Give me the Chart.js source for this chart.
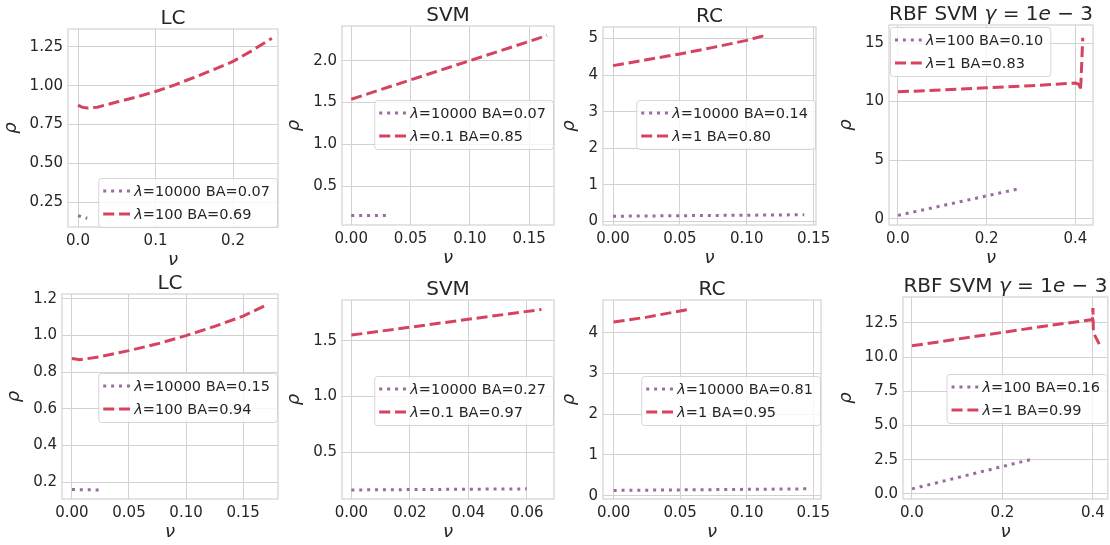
<!DOCTYPE html>
<html>
<head>
<meta charset="utf-8">
<script src="https://cdn.jsdelivr.net/npm/chart.js@4.4.1/dist/chart.umd.min.js"></script>
<style>
  body { margin: 0; background: #fff; }
  #wrap { position: relative; width: 1110px; height: 545px; }
  #wrap canvas { position: absolute; left: 0; top: 0; }
</style>
</head>
<body>
<div id="wrap">
  <canvas id="lc1" width="1110" height="545"></canvas>
  <canvas id="svm1" width="1110" height="545"></canvas>
  <canvas id="rc1" width="1110" height="545"></canvas>
  <canvas id="rbf1" width="1110" height="545"></canvas>
  <canvas id="lc2" width="1110" height="545"></canvas>
  <canvas id="svm2" width="1110" height="545"></canvas>
  <canvas id="rc2" width="1110" height="545"></canvas>
  <canvas id="rbf2" width="1110" height="545"></canvas>
</div>
<script>
var titles = ['LC', 'SVM', 'RC', 'RBF SVM γ = 1e − 3'];

// --- top row ---
var lc1DotNu = [0, 0.012];
var lc1DotRho = [0.162, 0.145];
var lc1DashNu = [0, 0.005, 0.012, 0.025, 0.05, 0.075, 0.1, 0.125, 0.15, 0.175, 0.2, 0.225, 0.25];
var lc1DashRho = [0.875, 0.862, 0.856, 0.862, 0.895, 0.927, 0.963, 1.006, 1.054, 1.104, 1.157, 1.228, 1.306];
var lc1Lambda = [10000, 100];
var lc1BA = [0.07, 0.69];
var lc1NuTicks = ['0.0', '0.1', '0.2'];
var lc1RhoTicks = ['0.25', '0.50', '0.75', '1.00', '1.25'];

var svm1DotNu = [0, 0.03];
var svm1DotRho = [0.15, 0.15];
var svm1DashNu = [0, 0.05, 0.1, 0.165];
var svm1DashRho = [1.54, 1.77, 2.0, 2.30];
var svm1Lambda = [10000, 0.1];
var svm1BA = [0.07, 0.85];
var svm1NuTicks = ['0.00', '0.05', '0.10', '0.15'];
var svm1RhoTicks = ['0.5', '1.0', '1.5', '2.0'];

var rc1DotNu = [0, 0.07, 0.143];
var rc1DotRho = [0.14, 0.16, 0.18];
var rc1DashNu = [0, 0.025, 0.05, 0.075, 0.1, 0.113];
var rc1DashRho = [4.26, 4.42, 4.58, 4.76, 4.95, 5.08];
var rc1Lambda = [10000, 1];
var rc1BA = [0.14, 0.80];
var rc1NuTicks = ['0.00', '0.05', '0.10', '0.15'];
var rc1RhoTicks = ['0', '1', '2', '3', '4', '5'];

var rbf1DotNu = [0, 0.27];
var rbf1DotRho = [0.28, 2.53];
var rbf1DashNu = [0, 0.1, 0.2, 0.3, 0.4, 0.409, 0.411, 0.4125, 0.4165];
var rbf1DashRho = [10.83, 11.0, 11.18, 11.36, 11.58, 11.45, 10.95, 11.7, 15.45];
var rbf1Lambda = [100, 1];
var rbf1BA = [0.10, 0.83];
var rbf1NuTicks = ['0.0', '0.2', '0.4'];
var rbf1RhoTicks = ['0', '5', '10', '15'];

// --- bottom row ---
var lc2DotNu = [0, 0.025];
var lc2DotRho = [0.16, 0.157];
var lc2DashNu = [0, 0.007, 0.025, 0.05, 0.075, 0.1, 0.125, 0.15, 0.172];
var lc2DashRho = [0.875, 0.868, 0.885, 0.918, 0.955, 1.0, 1.05, 1.106, 1.172];
var lc2Lambda = [10000, 100];
var lc2BA = [0.15, 0.94];
var lc2NuTicks = ['0.00', '0.05', '0.10', '0.15'];
var lc2RhoTicks = ['0.2', '0.4', '0.6', '0.8', '1.0', '1.2'];

var svm2DotNu = [0, 0.06];
var svm2DotRho = [0.16, 0.17];
var svm2DashNu = [0, 0.065];
var svm2DashRho = [1.55, 1.78];
var svm2Lambda = [10000, 0.1];
var svm2BA = [0.27, 0.97];
var svm2NuTicks = ['0.00', '0.02', '0.04', '0.06'];
var svm2RhoTicks = ['0.5', '1.0', '1.5'];

var rc2DotNu = [0, 0.148];
var rc2DotRho = [0.13, 0.17];
var rc2DashNu = [0, 0.025, 0.055];
var rc2DashRho = [4.26, 4.38, 4.56];
var rc2Lambda = [10000, 1];
var rc2BA = [0.81, 0.95];
var rc2NuTicks = ['0.00', '0.05', '0.10', '0.15'];
var rc2RhoTicks = ['0', '1', '2', '3', '4'];

var rbf2DotNu = [0, 0.268];
var rbf2DotRho = [0.37, 2.56];
var rbf2DashNu = [0, 0.1, 0.2, 0.3, 0.399, 0.4, 0.4005, 0.401, 0.414];
var rbf2DashRho = [10.83, 11.32, 11.81, 12.3, 12.75, 13.6, 12.6, 11.8, 10.95];
var rbf2Lambda = [100, 1];
var rbf2BA = [0.16, 0.99];
var rbf2NuTicks = ['0.0', '0.2', '0.4'];
var rbf2RhoTicks = ['0.0', '2.5', '5.0', '7.5', '10.0', '12.5'];

var PURPLE = '#9b6aa0';
var RED = '#d6435e';
var GRID = '#d2d2d2';
var TEXT = '#262626';
var Y_W = 45, X_H = 30;

// plot box [left, top, right, bottom] in page pixels, axis limits, legend spot
var panels = [
  { id: 'lc1', title: titles[0], box: [68, 29, 278, 227], xr: [-0.0129, 0.258], yr: [0.089, 1.366],
    nu: lc1NuTicks, rho: lc1RhoTicks, dot: [lc1DotNu, lc1DotRho], dash: [lc1DashNu, lc1DashRho],
    lambda: lc1Lambda, ba: lc1BA, legend: { side: 'right', top: 149 } },
  { id: 'svm1', title: titles[1], box: [342, 26, 554, 225], xr: [-0.0078, 0.1709], yr: [0.038, 2.414],
    nu: svm1NuTicks, rho: svm1RhoTicks, dot: [svm1DotNu, svm1DotRho], dash: [svm1DashNu, svm1DashRho],
    lambda: svm1Lambda, ba: svm1BA, legend: { side: 'right', top: 74 } },
  { id: 'rc1', title: titles[2], box: [603, 27, 816, 225], xr: [-0.0075, 0.1518], yr: [-0.1, 5.317],
    nu: rc1NuTicks, rho: rc1RhoTicks, dot: [rc1DotNu, rc1DotRho], dash: [rc1DashNu, rc1DashRho],
    lambda: rc1Lambda, ba: rc1BA, legend: { side: 'right', top: 73 } },
  { id: 'rbf1', title: titles[3], box: [889, 25, 1093, 225], xr: [-0.0202, 0.4396], yr: [-0.54, 16.54],
    nu: rbf1NuTicks, rho: rbf1RhoTicks, dot: [rbf1DotNu, rbf1DotRho], dash: [rbf1DashNu, rbf1DashRho],
    lambda: rbf1Lambda, ba: rbf1BA, legend: { side: 'left', top: 2 } },
  { id: 'lc2', title: titles[0], box: [62, 294, 278, 499], xr: [-0.0087, 0.1806], yr: [0.108, 1.227],
    nu: lc2NuTicks, rho: lc2RhoTicks, dot: [lc2DotNu, lc2DotRho], dash: [lc2DashNu, lc2DashRho],
    lambda: lc2Lambda, ba: lc2BA, legend: { side: 'right', top: 79 } },
  { id: 'svm2', title: titles[1], box: [342, 300, 554, 499], xr: [-0.0032, 0.0693], yr: [0.079, 1.865],
    nu: svm2NuTicks, rho: svm2RhoTicks, dot: [svm2DotNu, svm2DotRho], dash: [svm2DashNu, svm2DashRho],
    lambda: svm2Lambda, ba: svm2BA, legend: { side: 'right', top: 76 } },
  { id: 'rc2', title: titles[2], box: [603, 300, 821, 499], xr: [-0.008, 0.1558], yr: [-0.08, 4.8],
    nu: rc2NuTicks, rho: rc2RhoTicks, dot: [rc2DotNu, rc2DotRho], dash: [rc2DashNu, rc2DashRho],
    lambda: rc2Lambda, ba: rc2BA, legend: { side: 'right', top: 76 } },
  { id: 'rbf2', title: titles[3], box: [903, 297, 1108, 499], xr: [-0.0198, 0.433], yr: [-0.37, 14.4],
    nu: rbf2NuTicks, rho: rbf2RhoTicks, dot: [rbf2DotNu, rbf2DotRho], dash: [rbf2DashNu, rbf2DashRho],
    lambda: rbf2Lambda, ba: rbf2BA, legend: { side: 'right', top: 77 } }
];

var panelById = {};
panels.forEach(function(p) { panelById[p.id] = p; });

Chart.defaults.font.family = '"DejaVu Sans"';
Chart.defaults.color = TEXT;

// greek letters and the "e" of 1e-3 go in italic, like mathtext does
function textRuns(text) {
  var runs = [];
  for (var i = 0; i < text.length; i++) {
    var ch = text[i];
    var it = /[\u03b1-\u03c9]/.test(ch) || (ch === 'e' && /\d/.test(text[i - 1] || ''));
    if (runs.length && runs[runs.length - 1].it === it) runs[runs.length - 1].s += ch;
    else runs.push({ s: ch, it: it });
  }
  return runs;
}

function fontFor(run, size) {
  return (run.it ? 'italic ' : '') + size + 'px "DejaVu Sans"';
}

function measureText(ctx, text, size) {
  var w = 0;
  textRuns(text).forEach(function(r) { ctx.font = fontFor(r, size); w += ctx.measureText(r.s).width; });
  return w;
}

function drawText(ctx, text, x, y, size, align) {
  var w = measureText(ctx, text, size);
  var cx = align === 'center' ? x - w / 2 : (align === 'right' ? x - w : x);
  ctx.textAlign = 'left';
  ctx.textBaseline = 'alphabetic';
  textRuns(text).forEach(function(r) {
    ctx.font = fontFor(r, size);
    ctx.fillText(r.s, cx, y);
    cx += ctx.measureText(r.s).width;
  });
}

function drawLegend(ctx, a, p) {
  var size = 14.5;
  var labels = p.lambda.map(function(l, i) { return 'λ=' + l + ' BA=' + p.ba[i].toFixed(2); });
  var tw = Math.max.apply(null, labels.map(function(s) { return measureText(ctx, s, size); }));
  var bw = 5 + 28 + 3 + tw + 7, bh = 49;
  var bx = p.legend.side === 'right' ? a.right - 1 - bw : a.left + 1;
  var by = a.top + p.legend.top;

  ctx.save();
  ctx.fillStyle = 'rgba(255,255,255,0.8)';
  ctx.strokeStyle = 'rgba(204,204,204,0.8)';
  ctx.lineWidth = 1;
  ctx.beginPath();
  if (ctx.roundRect) ctx.roundRect(bx + 0.5, by + 0.5, bw, bh, 3);
  else ctx.rect(bx + 0.5, by + 0.5, bw, bh);
  ctx.fill();
  ctx.stroke();

  var styles = [[PURPLE, [3, 4.9]], [RED, [11, 4.8]]];
  labels.forEach(function(lab, i) {
    var ry = by + 13 + i * 23;
    ctx.strokeStyle = styles[i][0];
    ctx.lineWidth = 3;
    ctx.lineCap = 'butt';
    ctx.setLineDash(styles[i][1]);
    ctx.beginPath();
    ctx.moveTo(bx + 5, ry);
    ctx.lineTo(bx + 33, ry);
    ctx.stroke();
    ctx.setLineDash([]);
    ctx.fillStyle = TEXT;
    drawText(ctx, lab, bx + 36, ry + 5.3, size, 'left');
  });
  ctx.restore();
}

// frame, title, axis names and legend for each panel
var panelDecor = {
  id: 'panelDecor',
  afterDraw: function(chart) {
    var p = panelById[chart.canvas.id];
    var ctx = chart.ctx, a = chart.chartArea;
    ctx.save();
    ctx.strokeStyle = GRID;
    ctx.lineWidth = 1.2;
    ctx.strokeRect(a.left, a.top, a.right - a.left, a.bottom - a.top);

    ctx.fillStyle = TEXT;
    drawText(ctx, p.title, (a.left + a.right) / 2, a.top - 5, 20, 'center');
    drawText(ctx, 'ν', (a.left + a.right) / 2, a.bottom + 38, 18, 'center');

    ctx.font = '15px "DejaVu Sans"';
    var maxW = Math.max.apply(null, p.rho.map(function(s) { return ctx.measureText(s).width; }));
    var rx = a.left - 5 - maxW - 17;
    ctx.translate(rx + 3, (a.top + a.bottom) / 2);
    ctx.rotate(-Math.PI / 2);
    drawText(ctx, 'ρ', 0, 0, 18, 'center');
    ctx.restore();

    drawLegend(ctx, a, p);
  }
};

function toPoints(xs, ys) {
  return xs.map(function(x, i) { return { x: x, y: ys[i] }; });
}

function axis(range, labels, isX) {
  var values = labels.map(parseFloat);
  var cfg = {
    min: range[0],
    max: range[1],
    afterBuildTicks: function(s) { s.ticks = values.map(function(v) { return { value: v }; }); },
    ticks: {
      autoSkip: false,
      maxRotation: 0,
      padding: 5,
      color: TEXT,
      font: { size: 15 },
      callback: function(v, i) { return labels[i]; }
    },
    grid: { color: GRID, lineWidth: 1, drawTicks: false },
    border: { display: false }
  };
  if (isX) cfg.afterFit = function(s) { s.height = X_H; };
  else cfg.afterFit = function(s) { s.width = Y_W; };
  return cfg;
}

panels.forEach(function(p) {
  new Chart(document.getElementById(p.id), {
    type: 'scatter',
    data: {
      datasets: [
        { data: toPoints(p.dot[0], p.dot[1]), showLine: true, borderColor: PURPLE, borderWidth: 3,
          borderDash: [3, 4.9], borderCapStyle: 'butt', pointRadius: 0, tension: 0 },
        { data: toPoints(p.dash[0], p.dash[1]), showLine: true, borderColor: RED, borderWidth: 3,
          borderDash: [11, 4.8], borderCapStyle: 'butt', pointRadius: 0, tension: 0 }
      ]
    },
    options: {
      responsive: false,
      animation: false,
      events: [],
      layout: {
        padding: {
          left: p.box[0] - Y_W,
          top: p.box[1],
          right: 1110 - p.box[2],
          bottom: 545 - p.box[3] - X_H
        }
      },
      plugins: { legend: { display: false }, tooltip: { enabled: false } },
      scales: {
        x: axis(p.xr, p.nu, true),
        y: axis(p.yr, p.rho, false)
      }
    },
    plugins: [panelDecor]
  });
});
</script>
</body>
</html>
